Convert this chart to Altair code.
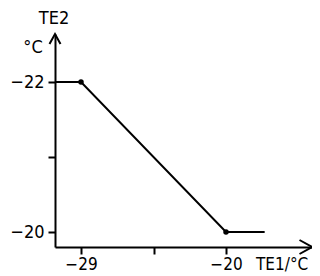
import altair as alt
import pandas as pd

# data
te1 = [-30.6, -29, -20, -17.6]
te2 = [-22, -22, -20, -20]
pt_te1 = [-29, -20]
pt_te2 = [-22, -20]
x_ticks = [-29, -24.5, -20]
y_ticks = [-22, -21, -20]

FONT = "Liberation Sans Narrow, DejaVu Sans Condensed, sans-serif"

line_df = pd.DataFrame({"TE1": te1, "TE2": te2})
pt_df = pd.DataFrame({"TE1": pt_te1, "TE2": pt_te2})
one = pd.DataFrame({"a": [0]})

W, H = 257, 213

xs = alt.Scale(domain=[-30.614, -14.662], nice=False, zero=False)
ys = alt.Scale(domain=[-22.64, -19.8], reverse=True, nice=False, zero=False)

xaxis = alt.Axis(
    values=x_ticks, title=None, grid=False,
    domainColor="black", domainWidth=2, tickColor="black", tickWidth=2, tickSize=7,
    labelFont=FONT, labelFontSize=17, labelColor="black", labelPadding=2,
    labelExpr="datum.value == -24.5 ? '' : '\u2212' + abs(datum.value)",
)
yaxis = alt.Axis(
    values=y_ticks, title=None, grid=False,
    domainColor="black", domainWidth=2, tickColor="black", tickWidth=2, tickSize=7,
    labelFont=FONT, labelFontSize=18, labelColor="black", labelPadding=4,
    labelExpr="datum.value == -21 ? '' : '\u2212' + abs(datum.value)",
)

line = alt.Chart(line_df).mark_line(color="black", strokeWidth=2).encode(
    x=alt.X("TE1:Q", scale=xs, axis=xaxis),
    y=alt.Y("TE2:Q", scale=ys, axis=yaxis),
)
pts = alt.Chart(pt_df).mark_circle(color="black", size=30, opacity=1).encode(
    x=alt.X("TE1:Q", scale=xs),
    y=alt.Y("TE2:Q", scale=ys),
)

up_arrow = alt.Chart(one).mark_point(
    shape="M -1.1 2 L 0 0 L 1.1 2", filled=False, color="black", strokeWidth=2, size=100, opacity=1
).encode(x=alt.value(0), y=alt.value(0))
right_arrow = alt.Chart(one).mark_point(
    shape="M -2.5 -1.4 L 0 0 L -2.5 1.4", filled=False, color="black", strokeWidth=2, size=100, opacity=1
).encode(x=alt.value(W), y=alt.value(H))

t_te2 = alt.Chart(one).mark_text(
    text="TE2", font=FONT, fontSize=18, color="black", align="center", baseline="middle"
).encode(x=alt.value(-1), y=alt.value(-15))
t_degc = alt.Chart(one).mark_text(
    text="°C", font=FONT, fontSize=18, color="black", align="center", baseline="middle"
).encode(x=alt.value(-22), y=alt.value(14))
t_te1 = alt.Chart(one).mark_text(
    text="TE1/°C", font=FONT, fontSize=17, color="black", align="left", baseline="middle"
).encode(x=alt.value(201), y=alt.value(231))

chart = alt.layer(line, pts, up_arrow, right_arrow, t_te2, t_degc, t_te1).properties(
    width=W, height=H,
    autosize=alt.AutoSizeParams(type="none"),
    padding={"left": 47, "top": 26, "right": 0, "bottom": 26},
    background="white",
).configure_view(stroke=None)

chart.save("out.html", embed_options={"renderer": "svg", "actions": False})
